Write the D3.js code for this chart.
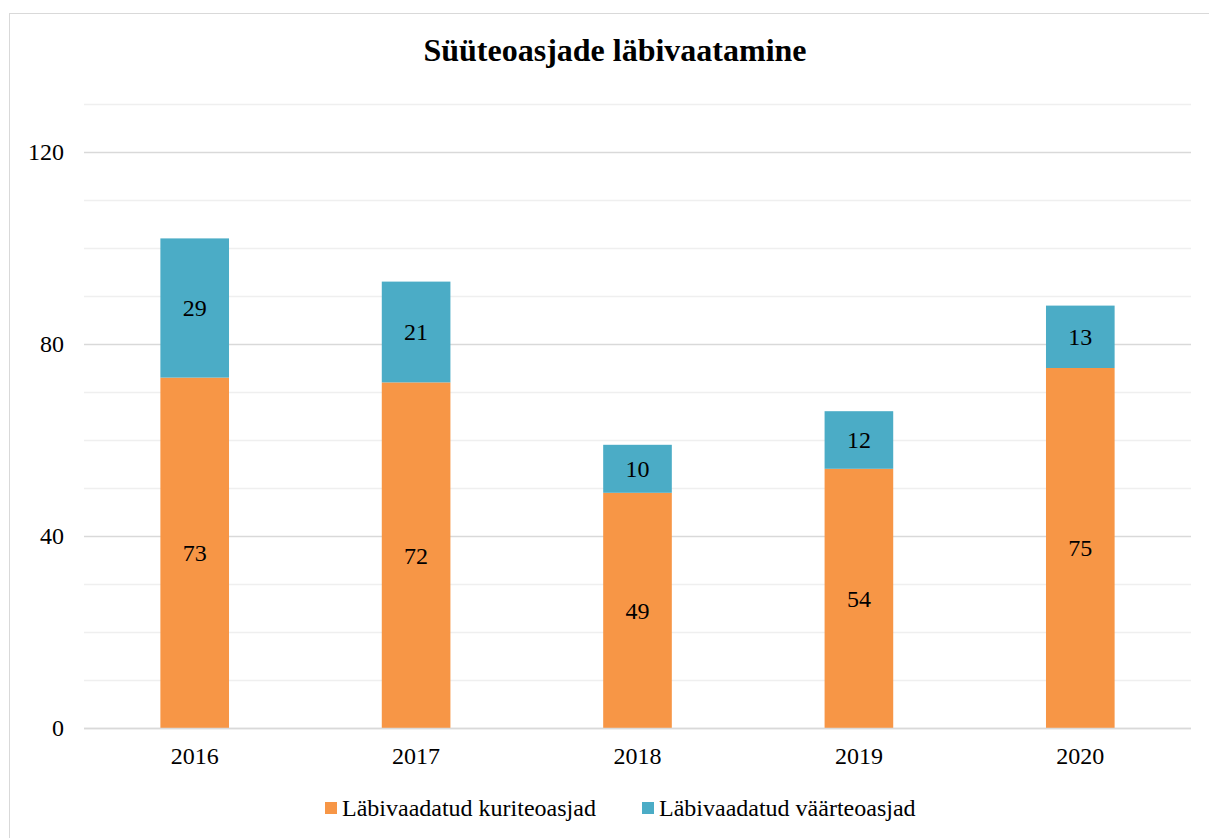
<!DOCTYPE html>
<html>
<head>
<meta charset="utf-8">
<script src="https://cdn.jsdelivr.net/npm/d3@7"></script>
<style>
  body { margin: 0; background: #fff; }
  text { font-family: "Liberation Serif", "Times New Roman", serif; fill: #000; }
</style>
</head>
<body>
<svg id="chart" width="1209" height="838"></svg>
<script>
'use strict'

const years = ['2016', '2017', '2018', '2019', '2020']
const kuriteo = [73, 72, 49, 54, 75]
const vaarteo = [29, 21, 10, 12, 13]
const seriesNames = ['Läbivaadatud kuriteoasjad', 'Läbivaadatud väärteoasjad']
const seriesColors = ['#F79646', '#4BACC6']
const yTicks = [0, 40, 80, 120]
const yMinor = [10, 20, 30, 50, 60, 70, 90, 100, 110, 130]

const margins = { top: 104, right: 18, bottom: 110, left: 84 }
const width = 1209, height = 838
const chartWidth = width - margins.left - margins.right
const chartHeight = height - margins.top - margins.bottom
const fontSize = '24px'

const svg = d3.select('#chart')

// chart frame
svg.append('rect')
    .attr('x', 9.5).attr('y', 13.5)
    .attr('width', 1220).attr('height', 840)
    .attr('fill', 'none')
    .attr('stroke', '#d9d9d9')

svg.append('text')
    .attr('x', 615).attr('y', 61)
    .attr('text-anchor', 'middle')
    .style('font-size', '32px')
    .style('font-weight', 'bold')
    .text('Süüteoasjade läbivaatamine')

const x = d3.scaleBand()
    .domain(years)
    .range([0, chartWidth])
    .paddingInner(0.69)
    .paddingOuter(0.345)

const y = d3.scaleLinear()
    .domain([0, 130])
    .range([chartHeight, 0])

const g = svg.append('g')
    .attr('transform', 'translate(' + margins.left + ',' + margins.top + ')')

// minor gridlines
g.selectAll('.minor')
    .data(yMinor)
    .enter().append('line')
    .attr('x1', 0).attr('x2', chartWidth)
    .attr('y1', d => Math.round(y(d)) + 0.5)
    .attr('y2', d => Math.round(y(d)) + 0.5)
    .attr('stroke', '#efefef')
    .attr('stroke-width', 1.5)

// major gridlines + labels
const yAxis = g.append('g')
    .call(d3.axisLeft(y).tickValues(yTicks).tickSize(-chartWidth).tickPadding(20))
yAxis.select('.domain').remove()
yAxis.selectAll('.tick line').attr('stroke', '#d9d9d9').attr('stroke-width', 1.5)
yAxis.selectAll('.tick text')
    .style('font-size', fontSize)
    .attr('font-family', null)

const stackData = years.map((yr, i) => ({ year: yr, k: kuriteo[i], v: vaarteo[i] }))
const stacked = d3.stack().keys(['k', 'v'])(stackData)

const layers = g.selectAll('.layer')
    .data(stacked)
    .enter().append('g')
    .attr('fill', (d, i) => seriesColors[i])

layers.selectAll('rect')
    .data(d => d)
    .enter().append('rect')
    .attr('x', d => x(d.data.year))
    .attr('width', x.bandwidth())
    .attr('y', d => y(d[1]))
    .attr('height', d => y(d[0]) - y(d[1]))

layers.selectAll('.val')
    .data(d => d)
    .enter().append('text')
    .attr('x', d => x(d.data.year) + x.bandwidth() / 2)
    .attr('y', d => (y(d[0]) + y(d[1])) / 2)
    .attr('dy', '0.35em')
    .attr('text-anchor', 'middle')
    .style('font-size', fontSize)
    .text(d => d[1] - d[0])

// x axis
const xAxis = g.append('g')
    .attr('transform', 'translate(0,' + chartHeight + ')')
    .call(d3.axisBottom(x).tickSize(0).tickPadding(19))
xAxis.select('.domain').remove()
xAxis.selectAll('.tick text')
    .style('font-size', fontSize)
    .attr('font-family', null)

// baseline
g.append('line')
    .attr('x1', 0).attr('x2', chartWidth)
    .attr('y1', chartHeight + 0.5).attr('y2', chartHeight + 0.5)
    .attr('stroke', '#d9d9d9').attr('stroke-width', 1.5)

// legend
const legendX = [325, 642]
const legend = svg.append('g')
    .selectAll('g')
    .data(seriesNames)
    .enter().append('g')
    .attr('transform', (d, i) => 'translate(' + legendX[i] + ',802)')
legend.append('rect')
    .attr('width', 12).attr('height', 12)
    .attr('fill', (d, i) => seriesColors[i])
legend.append('text')
    .attr('x', 17).attr('y', 14)
    .style('font-size', fontSize)
    .text(d => d)
</script>
</body>
</html>
